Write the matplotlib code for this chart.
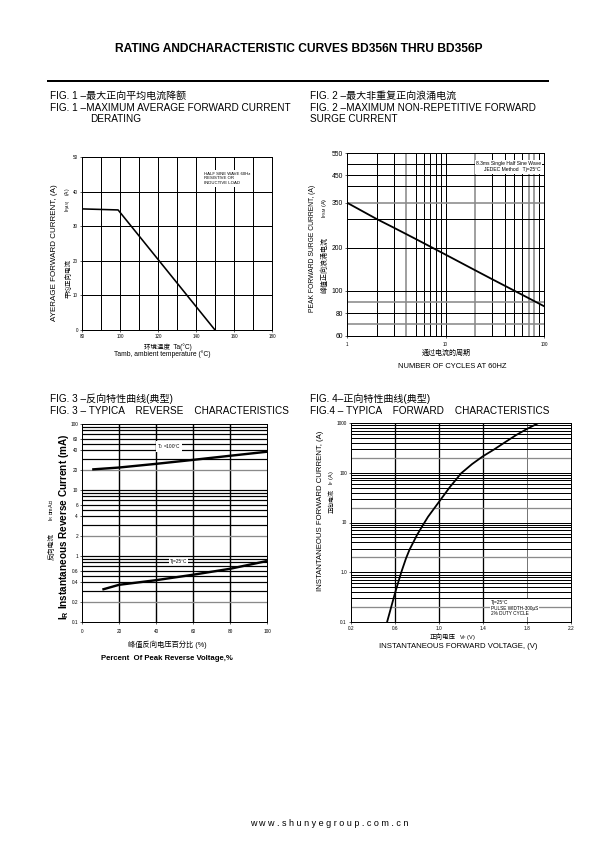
import numpy as np
import matplotlib
matplotlib.use('Agg')
import matplotlib.pyplot as plt
from matplotlib.lines import Line2D
from matplotlib.transforms import Bbox, TransformedBbox
from matplotlib.ticker import FixedLocator, NullLocator, FixedFormatter

plt.rcParams['font.family'] = ['Liberation Sans', 'Noto Sans CJK SC', 'DejaVu Sans']
plt.rcParams['mathtext.fontset'] = 'custom'
plt.rcParams['mathtext.rm'] = 'Liberation Sans'
plt.rcParams['mathtext.it'] = 'Liberation Sans'
plt.rcParams['mathtext.bf'] = 'Liberation Sans:bold'

# ---------------- data ----------------
# Fig 1 - derating
derating_temp = [80, 99, 150]
derating_current = [35, 34.7, 0]
fig1_xticks = [80, 100, 120, 140, 160, 180]
fig1_yticks = [0, 10, 20, 30, 40, 50]
fig1_vgrid = [90, 100, 110, 120, 130, 140, 150, 160, 170]
fig1_hgrid = [10, 20, 30, 40]

# Fig 2 - surge current
surge_cycles = [1, 2, 3, 5, 10, 20, 30, 50, 100]
surge_current = [350, 300, 265, 226, 179, 139, 120, 100, 86]
fig2_xticks = [1, 10, 100]
fig2_xtick_labels = ['1', '10', '100']
fig2_yticks = [60, 80, 100, 200, 350, 450, 550]
fig2_vgrid = [2, 3, 4, 5, 6, 7, 8, 9, 10, 20, 30, 40, 50, 60, 70, 80, 90]
fig2_vgrid_gray = [4, 20, 70, 80]
fig2_hgrid = [70, 80, 90, 100, 200, 300, 350, 400, 450, 500]
fig2_hgrid_gray = [70, 90, 350]
# the printed surge axis is not a true log axis: value -> height mapping
surge_axis_values = [60, 70, 80, 90, 100, 200, 300, 350, 400, 450, 500, 550]
surge_axis_height = [0, 12, 22.7, 34.3, 45.3, 88.3, 117, 133.3, 150, 161, 171.7, 183]

# Fig 3 - reverse characteristics
rev_pct_100 = [5.5, 20, 40, 60, 80, 100]
rev_cur_100 = [20.5, 21.9, 24.9, 28.6, 33, 38]
rev_pct_25 = [11, 20, 40, 60, 80, 100]
rev_cur_25 = [0.31, 0.366, 0.43, 0.52, 0.64, 0.84]
fig3_xticks = [0, 20, 40, 60, 80, 100]
fig3_yticks = [0.1, 0.2, 0.4, 0.6, 1, 2, 4, 6, 10, 20, 40, 60, 100]
fig3_ytick_labels = ['0.1', '0.2', '0.4', '0.6', '1', '2', '4', '6', '10', '20', '40', '60', '100']

# Fig 4 - forward characteristics
fwd_voltage = [0.528, 0.6, 0.657, 0.7, 0.732, 0.8, 0.853, 0.9, 1.0, 1.1, 1.153,
               1.2, 1.3, 1.4, 1.5, 1.6, 1.7, 1.8, 1.905]
fwd_current = [0.1, 0.38, 1.0, 1.9, 2.84, 5.6, 8.8, 13, 26, 52, 72,
               97, 149, 215, 293, 410, 570, 760, 1000]
fig4_xticks = [0.2, 0.6, 1.0, 1.4, 1.8, 2.2]
fig4_xtick_labels = ['0.2', '0.6', '1.0', '1.4', '1.8', '2.2']
fig4_yticks = [0.1, 1, 10, 100, 1000]
fig4_ytick_labels = ['0.1', '1.0', '10', '100', '1000']
fig4_vgrid = [0.6, 1.0, 1.4]
fig4_vgrid_gray = [1.8]

# ---------------- figure ----------------
W, H = 595, 842
fig = plt.figure(figsize=(W / 72, H / 72), dpi=72)
fig.patch.set_facecolor('white')


def ax_at(l, t, r, b):
    return fig.add_axes([l / W, 1 - b / H, (r - l) / W, (b - t) / H])


def txt(x, y, s, **kw):
    kw.setdefault('ha', 'left')
    kw.setdefault('va', 'center')
    return fig.text(x / W, 1 - y / H, s, **kw)


def style_axes(ax, labelsize=4.5):
    for sp in ax.spines.values():
        sp.set_linewidth(1.0)
        sp.set_color('black')
    ax.tick_params(which='both', direction='out', length=2, width=0.6,
                   labelsize=labelsize, pad=2, top=False, right=False)
    ax.tick_params(which='minor', length=0)


def log_hgrid(ax, lo_exp, hi_exp, gray_mult=(2,), lw=1.0):
    for e in range(lo_exp, hi_exp):
        for m in range(1, 10):
            v = m * 10.0 ** e
            if m == 1 and e == lo_exp:
                continue
            col = '#8a8a8a' if m in gray_mult else 'black'
            ax.axhline(v, color=col, lw=lw if col == 'black' else 1.3, zorder=1)


TITLE = 10.0

# header
txt(298.5, 49, 'RATING ANDCHARACTERISTIC CURVES BD356N THRU BD356P',
    ha='center', fontsize=12, fontweight='bold')
fig.add_artist(Line2D([48 / W, 548 / W], [1 - 80.5 / H, 1 - 80.5 / H],
                      color='black', lw=2))
txt(329, 824, 'w w w . s h u n y e g r o u p . c o m . c n', ha='center', fontsize=9)

# ---------------- Fig 1 ----------------
txt(50, 96, 'FIG. 1 –最大正向平均电流降额', fontsize=TITLE)
txt(50, 108, 'FIG. 1 –MAXIMUM AVERAGE FORWARD CURRENT', fontsize=TITLE)
txt(90, 119, 'DERATING', fontsize=TITLE)

ax1 = ax_at(82, 157, 272, 330)
style_axes(ax1)
ax1.set_xlim(80, 180)
ax1.set_ylim(0, 50)
ax1.set_xticks(fig1_xticks)
ax1.set_yticks(fig1_yticks)
for v in fig1_vgrid:
    ax1.axvline(v, color='black', lw=1.0, zorder=1)
for v in fig1_hgrid:
    ax1.axhline(v, color='black', lw=1.0, zorder=1)
ax1.plot(derating_temp, derating_current, color='black', lw=1.6, zorder=3)
ax1.text(0.64, 0.915, 'HALF SINE WAVE 60Hz\nRESISTIVE OR\nINDUCTIVE LOAD',
         transform=ax1.transAxes, fontsize=4.3, va='top', ha='left', linespacing=1.25,
         bbox=dict(facecolor='white', edgecolor='none', pad=1.5), zorder=4)

txt(55, 253, 'AYERAGE FORWARD CURRENT, (A)', rotation=90, ha='center', fontsize=8.0)
txt(69, 278, '平均正向电流', rotation=90, ha='center', fontsize=6.5)
txt(69, 200, r'I$_{\mathrm{F(AV)}}$    (A)', rotation=90, ha='center', fontsize=5.0)
txt(168, 347, '环境温度  Ta(°C)', ha='center', fontsize=6.5)
txt(162, 354.5, 'Tamb, ambient temperature (°C)', ha='center', fontsize=6.8)

# ---------------- Fig 2 ----------------
txt(310, 96, 'FIG. 2 –最大非重复正向浪涌电流', fontsize=TITLE)
txt(310, 108, 'FIG. 2 –MAXIMUM NON-REPETITIVE FORWARD', fontsize=TITLE)
txt(310, 119, 'SURGE CURRENT', fontsize=TITLE)

log_vals = np.log10(surge_axis_values)


def surge_fwd(v):
    v = np.clip(np.asarray(v, dtype=float), 1e-3, None)
    return np.interp(np.log10(v), log_vals, surge_axis_height)


def surge_inv(p):
    return 10 ** np.interp(np.asarray(p, dtype=float), surge_axis_height, log_vals)


ax2 = ax_at(347, 153, 544, 336)
style_axes(ax2)
ax2.set_xscale('log')
ax2.set_yscale('function', functions=(surge_fwd, surge_inv))
ax2.set_xlim(1, 100)
ax2.set_ylim(60, 550)
ax2.xaxis.set_major_locator(FixedLocator(fig2_xticks))
ax2.xaxis.set_major_formatter(FixedFormatter(fig2_xtick_labels))
ax2.xaxis.set_minor_locator(NullLocator())
ax2.yaxis.set_major_locator(FixedLocator(fig2_yticks))
ax2.yaxis.set_major_formatter(FixedFormatter([str(v) for v in fig2_yticks]))
ax2.yaxis.set_minor_locator(NullLocator())
ax2.tick_params(axis='y', labelsize=6.8, length=2)
ax2.tick_params(axis='x', labelsize=4.5, pad=4)
for v in fig2_vgrid:
    g = v in fig2_vgrid_gray
    ax2.axvline(v, color='#8a8a8a' if g else 'black', lw=1.6 if g else 1.0, zorder=1)
for v in fig2_hgrid:
    g = v in fig2_hgrid_gray
    ax2.axhline(v, color='#8a8a8a' if g else 'black', lw=1.6 if g else 1.0, zorder=1)
ax2.plot(surge_cycles, surge_current, color='black', lw=1.8, zorder=3)
ax2.text(0.985, 0.955, '8.3ms Single Half Sine Wave\nJEDEC Method   Tj=25°C',
         transform=ax2.transAxes, fontsize=5.0, va='top', ha='right', linespacing=1.3,
         bbox=dict(facecolor='white', edgecolor='none', pad=1.2), zorder=4)

txt(312, 248, 'PEAK FORWARD SURGE CURRENT, (A)', rotation=90, ha='center', fontsize=6.8)
txt(325, 265, '峰值正向浪涌电流', rotation=90, ha='center', fontsize=7.0)
txt(325, 208, r'I$_{\mathrm{FSM}}$ (A)', rotation=90, ha='center', fontsize=5.5)
txt(446, 353, '通过电流的周期', ha='center', fontsize=7.0)
t2 = txt(452, 366.5, 'NUMBER OF CYCLES AT 60HZ', ha='center', fontsize=7.5)
clip = TransformedBbox(Bbox([[0, 1 - 368.0 / H], [1, 1]]), fig.transFigure)
t2.set_clip_box(clip)
t2.set_clip_on(True)

# ---------------- Fig 3 ----------------
txt(50, 399, 'FIG. 3 –反向特性曲线(典型)', fontsize=TITLE)
txt(50, 411, 'FIG. 3 – TYPICA    REVERSE    CHARACTERISTICS', fontsize=TITLE)

ax3 = ax_at(82, 424, 267, 622)
style_axes(ax3, labelsize=4.8)
ax3.set_yscale('log')
ax3.set_xlim(0, 100)
ax3.set_ylim(0.1, 100)
ax3.set_xticks(fig3_xticks)
ax3.yaxis.set_major_locator(FixedLocator(fig3_yticks))
ax3.yaxis.set_major_formatter(FixedFormatter(fig3_ytick_labels))
ax3.yaxis.set_minor_locator(NullLocator())
ax3.tick_params(axis='x', pad=5)
for v in fig3_xticks[1:-1]:
    ax3.axvline(v, color='black', lw=1.4, zorder=1)
log_hgrid(ax3, -1, 2, gray_mult=(2,), lw=1.2)
ax3.plot(rev_pct_100, rev_cur_100, color='black', lw=2.4, zorder=3, solid_capstyle='butt')
ax3.plot(rev_pct_25, rev_cur_25, color='black', lw=2.4, zorder=3, solid_capstyle='butt')
ax3.text(47, 46, r'T$_{\mathrm{J}}$ =100°C', fontsize=4.8, ha='center', va='center',
         bbox=dict(facecolor='white', edgecolor='none', pad=1.0), zorder=4)
ax3.text(52, 0.82, 'Tj=25°C', fontsize=4.8, ha='center', va='center',
         bbox=dict(facecolor='white', edgecolor='none', pad=1.0), zorder=4)

txt(52, 547, '反向电流', rotation=90, ha='center', fontsize=6.8)
txt(52, 510, r'I$_{\mathrm{R}}$ （mA）', rotation=90, ha='center', fontsize=5.5)
txt(64, 527, r'I$_{\mathbf{R}}$ Instantaneous Reverse Current (mA)', rotation=90,
    ha='center', fontsize=10, fontweight='bold')
txt(167, 645, '峰值反向电压百分比 (%)', ha='center', fontsize=7.3)
txt(167, 658, 'Percent  Of Peak Reverse Voltage,%', ha='center', fontsize=7.8,
    fontweight='bold')

# ---------------- Fig 4 ----------------
txt(310, 399, 'FIG. 4–正向特性曲线(典型)', fontsize=TITLE)
txt(310, 411, 'FIG.4 – TYPICA    FORWARD    CHARACTERISTICS', fontsize=TITLE)

ax4 = ax_at(351, 423, 571, 622)
style_axes(ax4, labelsize=4.8)
ax4.set_yscale('log')
ax4.set_xlim(0.2, 2.2)
ax4.set_ylim(0.1, 1000)
ax4.xaxis.set_major_locator(FixedLocator(fig4_xticks))
ax4.xaxis.set_major_formatter(FixedFormatter(fig4_xtick_labels))
ax4.yaxis.set_major_locator(FixedLocator(fig4_yticks))
ax4.yaxis.set_major_formatter(FixedFormatter(fig4_ytick_labels))
ax4.yaxis.set_minor_locator(NullLocator())
for v in fig4_vgrid:
    ax4.axvline(v, color='black', lw=1.3, zorder=1)
for v in fig4_vgrid_gray:
    ax4.axvline(v, color='#555555', lw=0.8, zorder=1)
log_hgrid(ax4, -1, 3, gray_mult=(2,), lw=1.0)
ax4.plot(fwd_voltage, fwd_current, color='black', lw=1.8, zorder=3,
         solid_joinstyle='round')
ax4.text(1.47, 0.19, 'Tj=25°C\nPULSE WIDTH-300μS\n2% DUTY CYCLE',
         fontsize=4.8, ha='left', va='center', linespacing=1.2,
         bbox=dict(facecolor='white', edgecolor='none', pad=1.0), zorder=4)

txt(321, 511, 'INSTANTANEOUS FORWARD CURRENT, (A)', rotation=90, ha='center', fontsize=7.7)
txt(332, 501, '正向电流', rotation=90, ha='center', fontsize=6.0)
txt(332, 478, r'I$_{\mathrm{F}}$ (A)', rotation=90, ha='center', fontsize=5.5)
txt(443, 637, '正向电压', ha='center', fontsize=6.5)
txt(467, 637, r'V$_{\mathrm{F}}$ (V)', ha='center', fontsize=5.5)
txt(458, 646, 'INSTANTANEOUS FORWARD VOLTAGE, (V)', ha='center', fontsize=7.8)

fig.savefig('out.png', dpi=72, facecolor='white')
